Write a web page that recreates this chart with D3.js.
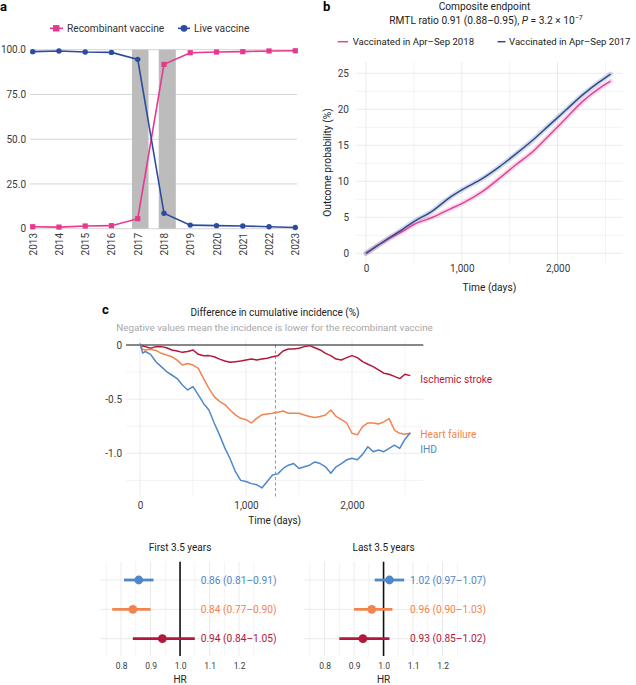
<!DOCTYPE html>
<html><head><meta charset="utf-8">
<script src="https://cdn.jsdelivr.net/npm/d3@7"></script>
<style>
body{margin:0;background:#fff}
svg{display:block}
text{font-family:Roboto,"Open Sans",sans-serif}
</style>
</head><body>
<svg id="chart" width="636" height="685"></svg>
<script>
// ---------- Panel a data ----------
const years = [2013,2014,2015,2016,2017,2018,2019,2020,2021,2022,2023];
const recombinant = [1.1,0.9,1.5,1.7,5.6,91.8,98.3,98.7,98.9,99.3,99.4];
const live = [98.9,99.3,98.7,98.5,94.6,8.6,2.0,1.7,1.5,1.1,0.7];
const seasonBars = [[2016.78,2017.41],[2017.8,2018.45]];
const yTicksA = [0,25,50,75,100];
const yTickLabelsA = ["0","25.0","50.0","75.0","100.0"];
const legendA = ["Recombinant vaccine","Live vaccine"];

// ---------- Panel b data ----------
const daysB = [0,100,250,400,500,696,870,1000,1217,1391,1565,1739,1913,2087,2261,2435,2553];
const vacc2017 = [0,0.9,2.2,3.5,4.4,5.9,7.7,8.8,10.4,12.0,13.8,15.7,17.8,19.9,22.0,23.8,24.9];
const vacc2018 = [0,0.9,2.1,3.2,4.0,5.0,6.1,6.9,8.6,10.4,12.3,14.1,16.4,18.75,21.1,22.9,23.9];
const legendB = ["Vaccinated in Apr\u2013Sep 2018","Vaccinated in Apr\u2013Sep 2017"];
const yTicksB = [0,5,10,15,20,25];
const xTicksB = [0,1000,2000];

// ---------- Panel c data ----------
const daysC = [0,25,50,100,150,200,250,300,350,400,450,500,550,600,650,700,750,800,850,900,950,1000,1050,1100,1150,1200,1250,1300,1350,1400,1450,1500,1550,1600,1650,1700,1750,1800,1850,1900,1950,2000,2050,2100,2150,2200,2250,2300,2350,2400,2450,2500,2550];
const ihd = [0.015,-0.075,-0.06,-0.086,-0.155,-0.20,-0.245,-0.277,-0.31,-0.37,-0.415,-0.385,-0.46,-0.54,-0.60,-0.72,-0.83,-0.95,-1.05,-1.17,-1.25,-1.26,-1.28,-1.29,-1.32,-1.26,-1.20,-1.19,-1.14,-1.11,-1.095,-1.14,-1.125,-1.11,-1.08,-1.095,-1.125,-1.185,-1.125,-1.095,-1.06,-1.045,-1.06,-1.01,-0.94,-0.985,-0.97,-0.985,-0.955,-0.925,-0.955,-0.87,-0.81];
const heartFailure = [0,-0.04,-0.046,-0.04,-0.05,-0.077,-0.092,-0.108,-0.14,-0.185,-0.17,-0.185,-0.215,-0.31,-0.40,-0.477,-0.52,-0.55,-0.60,-0.645,-0.677,-0.69,-0.72,-0.677,-0.645,-0.637,-0.63,-0.62,-0.61,-0.63,-0.63,-0.63,-0.646,-0.66,-0.67,-0.66,-0.646,-0.60,-0.66,-0.69,-0.72,-0.815,-0.83,-0.754,-0.72,-0.72,-0.73,-0.71,-0.68,-0.785,-0.815,-0.825,-0.815];
const stroke = [0,-0.01,-0.015,-0.03,-0.015,-0.015,-0.025,-0.046,-0.055,-0.068,-0.06,-0.046,-0.086,-0.10,-0.098,-0.108,-0.13,-0.148,-0.16,-0.154,-0.148,-0.138,-0.13,-0.138,-0.13,-0.123,-0.108,-0.10,-0.055,-0.037,-0.037,-0.03,-0.015,-0.006,-0.025,-0.046,-0.077,-0.098,-0.13,-0.138,-0.117,-0.098,-0.117,-0.154,-0.178,-0.20,-0.23,-0.26,-0.27,-0.29,-0.31,-0.27,-0.283];
const splitDay = 1278;
const yTicksC = [0,-0.5,-1.0];
const yTickLabelsC = ["0","-0.5","-1.0"];

// ---------- Forest data ----------
const outcomes = ["IHD","Heart failure","Ischemic stroke"];
const firstHR = [0.86,0.84,0.94], firstLo = [0.81,0.77,0.84], firstHi = [0.91,0.90,1.05];
const lastHR = [1.02,0.96,0.93], lastLo = [0.97,0.90,0.85], lastHi = [1.07,1.03,1.02];
const hrTicks = [0.8,0.9,1.0,1.1,1.2];

// ---------- styles ----------
const pinkA = "#e8388d", blueA = "#2b4c9f";
const pinkB = "#e0459a", blueB = "#2f4b8f";
const outColor = {"IHD":"#4f88c6","Heart failure":"#f1844f","Ischemic stroke":"#b3183c"};
const txt = "#333", grid = "#ebebeb", gridMinor = "#f3f3f3";

const svg = d3.select("#chart");

function panelLabel(t,x,y){
  svg.append("text").attr("x",x).attr("y",y).text(t)
    .attr("font-weight","bold").attr("font-size",13).attr("fill","#000");
}
function styleAxis(g,size,color){
  g.select(".domain").remove();
  g.selectAll(".tick line").remove();
  g.selectAll("text").attr("font-size",size).attr("fill",color||txt)
    .attr("font-family",'Roboto,"Open Sans",sans-serif');
}

// ================= Panel a =================
panelLabel("a",0,11);
const xA = d3.scaleLinear().domain([2013,2023]).range([32.7,295.3]);
const yA = d3.scaleLinear().domain([0,100]).range([228.7,49.7]);
const gA = svg.append("g");
gA.selectAll("line.g").data(yTicksA).join("line")
  .attr("x1",30).attr("x2",297).attr("y1",d=>yA(d)).attr("y2",d=>yA(d))
  .attr("stroke","#d4d4d4").attr("stroke-width",1);
gA.selectAll("rect").data(seasonBars).join("rect")
  .attr("x",d=>xA(d[0])).attr("width",d=>xA(d[1])-xA(d[0]))
  .attr("y",yA(100)).attr("height",yA(0)-yA(100)).attr("fill","#bcbcbc");
const axA = gA.append("g").attr("transform","translate(29,0)")
  .call(d3.axisLeft(yA).tickValues(yTicksA).tickFormat((d,i)=>yTickLabelsA[i]).tickSize(0).tickPadding(3));
styleAxis(axA,10,"#3a3a3a");
const axAx = gA.append("g").attr("transform","translate(0,231)")
  .call(d3.axisBottom(xA).tickValues(years).tickFormat(d3.format("d")).tickSize(0));
styleAxis(axAx,10,"#3a3a3a");
axAx.selectAll("text").attr("transform","rotate(-90)").attr("x",-2).attr("y",0)
  .attr("dy","0.35em").attr("text-anchor","end");
const lineA = d3.line().x(d=>xA(d[0])).y(d=>yA(d[1]));
const recPts = years.map((y,i)=>[y,recombinant[i]]);
const livePts = years.map((y,i)=>[y,live[i]]);
gA.append("path").datum(recPts).attr("d",lineA).attr("fill","none").attr("stroke",pinkA).attr("stroke-width",1.6);
gA.append("path").datum(livePts).attr("d",lineA).attr("fill","none").attr("stroke",blueA).attr("stroke-width",1.6);
gA.selectAll("rect.m").data(recPts).join("rect").attr("class","m")
  .attr("x",d=>xA(d[0])-2.6).attr("y",d=>yA(d[1])-2.6).attr("width",5.2).attr("height",5.2).attr("fill",pinkA);
gA.selectAll("circle.m").data(livePts).join("circle").attr("class","m")
  .attr("cx",d=>xA(d[0])).attr("cy",d=>yA(d[1])).attr("r",2.7).attr("fill",blueA);
// legend a
const legAy = 28.3;
gA.append("line").attr("x1",50).attr("x2",63).attr("y1",legAy).attr("y2",legAy).attr("stroke",pinkA).attr("stroke-width",1.6);
gA.append("rect").attr("x",53).attr("y",legAy-3.2).attr("width",6.4).attr("height",6.4).attr("fill",pinkA);
gA.append("text").attr("x",67).attr("y",legAy).attr("dy","0.35em").attr("font-size",10.2).attr("fill",txt).text(legendA[0]);
gA.append("line").attr("x1",178).attr("x2",190).attr("y1",legAy).attr("y2",legAy).attr("stroke",blueA).attr("stroke-width",1.6);
gA.append("circle").attr("cx",184).attr("cy",legAy).attr("r",3.4).attr("fill",blueA);
gA.append("text").attr("x",194).attr("y",legAy).attr("dy","0.35em").attr("font-size",10.2).attr("fill",txt).text(legendA[1]);

// ================= Panel b =================
panelLabel("b",323,11);
const xB = d3.scaleLinear().domain([0,2000]).range([366,557.6]);
const yB = d3.scaleLinear().domain([0,25]).range([253.3,73.3]);
const bL = 356, bR = 622.7, bT = 61.7, bBt = 263.3;
const gB = svg.append("g");
const minorB = d3.range(2.5,26,5);
gB.selectAll("line.hm").data(minorB).join("line").attr("x1",bL).attr("x2",bR)
  .attr("y1",d=>yB(d)).attr("y2",d=>yB(d)).attr("stroke",gridMinor);
gB.selectAll("line.vm").data([500,1500,2500]).join("line").attr("y1",bT).attr("y2",bBt)
  .attr("x1",d=>xB(d)).attr("x2",d=>xB(d)).attr("stroke",gridMinor);
gB.selectAll("line.h").data(yTicksB).join("line").attr("x1",bL).attr("x2",bR)
  .attr("y1",d=>yB(d)).attr("y2",d=>yB(d)).attr("stroke",grid);
gB.selectAll("line.v").data(xTicksB).join("line").attr("y1",bT).attr("y2",bBt)
  .attr("x1",d=>xB(d)).attr("x2",d=>xB(d)).attr("stroke",grid);
const axB = gB.append("g").attr("transform",`translate(${bL-3},0)`)
  .call(d3.axisLeft(yB).tickValues(yTicksB).tickSize(0).tickPadding(4));
styleAxis(axB,10,"#3a3a3a");
const axBx = gB.append("g").attr("transform",`translate(0,${bBt})`)
  .call(d3.axisBottom(xB).tickValues(xTicksB).tickFormat(d3.format(",")).tickSize(0).tickPadding(2));
styleAxis(axBx,10,"#3a3a3a");
const lineB = d3.line().x(d=>xB(d[0])).y(d=>yB(d[1])).curve(d3.curveMonotoneX);
const p17 = daysB.map((d,i)=>[d,vacc2017[i]]);
const p18 = daysB.map((d,i)=>[d,vacc2018[i]]);
[[p18,pinkB],[p17,blueB]].forEach(([pts,c])=>{
  gB.append("path").datum(pts).attr("d",lineB).attr("fill","none").attr("stroke",c)
    .attr("stroke-opacity",0.2).attr("stroke-width",5).attr("stroke-linecap","round");
});
[[p18,pinkB],[p17,blueB]].forEach(([pts,c])=>{
  gB.append("path").datum(pts).attr("d",lineB).attr("fill","none").attr("stroke",c).attr("stroke-width",1.5);
});
gB.append("text").attr("x",484.5).attr("y",9.5).attr("text-anchor","middle").attr("font-size",10.2).attr("fill","#222").text("Composite endpoint");
const sub = gB.append("text").attr("x",486).attr("y",24).attr("text-anchor","middle").attr("font-size",10.2).attr("fill","#222");
sub.append("tspan").text("RMTL ratio 0.91 (0.88\u20130.95), ");
sub.append("tspan").attr("font-style","italic").text("P");
sub.append("tspan").text(" = 3.2 \u00d7 10");
sub.append("tspan").attr("font-size",7).attr("dy",-4).text("\u22127");
const legBy = 41.7;
gB.append("line").attr("x1",337.7).attr("x2",348).attr("y1",legBy).attr("y2",legBy).attr("stroke",pinkB).attr("stroke-width",1.5);
gB.append("text").attr("x",352.7).attr("y",legBy).attr("dy","0.35em").attr("font-size",9.6).attr("fill","#222").text(legendB[0]);
gB.append("line").attr("x1",497.5).attr("x2",505.5).attr("y1",legBy).attr("y2",legBy).attr("stroke",blueB).attr("stroke-width",1.5);
gB.append("text").attr("x",509).attr("y",legBy).attr("dy","0.35em").attr("font-size",9.6).attr("fill","#222").text(legendB[1]);
gB.append("text").attr("transform",`translate(327.7,${(bT+bBt)/2}) rotate(-90)`).attr("text-anchor","middle")
  .attr("dy","0.35em").attr("font-size",10.2).attr("fill","#222").text("Outcome probability (%)");
gB.append("text").attr("x",(bL+bR)/2).attr("y",290.5).attr("text-anchor","middle").attr("font-size",10.2).attr("fill","#222").text("Time (days)");

// ================= Panel c =================
panelLabel("c",102,314);
const xC = d3.scaleLinear().domain([0,2000]).range([140,352]);
const yC = d3.scaleLinear().domain([0,-1]).range([345,453.3]);
const cL = 126, cR = 423.3, cT = 339, cB = 496.7;
const gC = svg.append("g");
gC.selectAll("line.hm").data([-0.25,-0.75,-1.25]).join("line").attr("x1",cL).attr("x2",cR)
  .attr("y1",d=>yC(d)).attr("y2",d=>yC(d)).attr("stroke",gridMinor);
gC.selectAll("line.vm").data([500,1500,2500]).join("line").attr("y1",cT).attr("y2",cB)
  .attr("x1",d=>xC(d)).attr("x2",d=>xC(d)).attr("stroke",gridMinor);
gC.selectAll("line.h").data([-0.5,-1.0]).join("line").attr("x1",cL).attr("x2",cR)
  .attr("y1",d=>yC(d)).attr("y2",d=>yC(d)).attr("stroke",grid);
gC.selectAll("line.v").data(xTicksB).join("line").attr("y1",cT).attr("y2",cB)
  .attr("x1",d=>xC(d)).attr("x2",d=>xC(d)).attr("stroke",grid);
gC.append("line").attr("x1",xC(splitDay)).attr("x2",xC(splitDay)).attr("y1",yC(0)).attr("y2",cB)
  .attr("stroke","#8a8a8a").attr("stroke-width",0.9).attr("stroke-dasharray","3,2.5");
gC.append("line").attr("x1",cL).attr("x2",cR).attr("y1",yC(0)).attr("y2",yC(0)).attr("stroke","#111").attr("stroke-width",1.2);
const axC = gC.append("g").attr("transform",`translate(${cL},0)`)
  .call(d3.axisLeft(yC).tickValues(yTicksC).tickFormat((d,i)=>yTickLabelsC[i]).tickSize(0).tickPadding(4));
styleAxis(axC,10,"#3a3a3a");
const axCx = gC.append("g").attr("transform",`translate(0,${cB})`)
  .call(d3.axisBottom(xC).tickValues(xTicksB).tickFormat(d3.format(",")).tickSize(0).tickPadding(5));
styleAxis(axCx,10,"#3a3a3a");
const lineC = d3.line().x(d=>xC(d[0])).y(d=>yC(d[1]));
const seriesC = [["Ischemic stroke",stroke,4],["Heart failure",heartFailure,1.5],["IHD",ihd,16.5]];
seriesC.forEach(([name,vals,off])=>{
  const pts = daysC.map((d,i)=>[d,vals[i]]);
  gC.append("path").datum(pts).attr("d",lineC).attr("fill","none").attr("stroke",outColor[name]).attr("stroke-width",1.5).attr("stroke-linejoin","round");
  const last = pts[pts.length-1];
  gC.append("text").attr("x",xC(last[0])+10).attr("y",yC(last[1])+off).attr("dy","0.35em")
    .attr("font-size",10.2).attr("fill",outColor[name]).text(name);
});
gC.append("text").attr("x",275).attr("y",316).attr("text-anchor","middle").attr("font-size",10).attr("fill","#222").text("Difference in cumulative incidence (%)");
gC.append("text").attr("x",274.5).attr("y",330.5).attr("text-anchor","middle").attr("font-size",9.8).attr("fill","#a8a8a8").text("Negative values mean the incidence is lower for the recombinant vaccine");
gC.append("text").attr("x",(cL+cR)/2).attr("y",523.5).attr("text-anchor","middle").attr("font-size",10).attr("fill","#222").text("Time (days)");

// ================= Forest plots =================
const yF = d3.scalePoint().domain(outcomes).range([580,638.7]);
const fT = 561.7, fB = 656;
function forest(x0,x1,title,hr,lo,hi){
  const xF = d3.scaleLinear().domain([0.73,1.27]).range([x0,x1]);
  const g = svg.append("g");
  const minor = d3.range(0.75,1.26,0.1).map(v=>+v.toFixed(2));
  g.selectAll("line.vm").data(minor).join("line").attr("x1",d=>xF(d)).attr("x2",d=>xF(d))
    .attr("y1",fT).attr("y2",fB).attr("stroke",gridMinor);
  g.selectAll("line.v").data(hrTicks).join("line").attr("x1",d=>xF(d)).attr("x2",d=>xF(d))
    .attr("y1",fT).attr("y2",fB).attr("stroke",grid);
  g.selectAll("line.h").data(outcomes).join("line").attr("x1",x0).attr("x2",x1)
    .attr("y1",d=>yF(d)).attr("y2",d=>yF(d)).attr("stroke",grid);
  g.append("line").attr("x1",xF(1)).attr("x2",xF(1)).attr("y1",fT).attr("y2",fB).attr("stroke","#111").attr("stroke-width",1.6);
  outcomes.forEach((o,i)=>{
    g.append("line").attr("x1",xF(lo[i])).attr("x2",xF(hi[i])).attr("y1",yF(o)).attr("y2",yF(o))
      .attr("stroke",outColor[o]).attr("stroke-width",2.8);
    g.append("circle").attr("cx",xF(hr[i])).attr("cy",yF(o)).attr("r",4.4).attr("fill",outColor[o]);
    g.append("text").attr("x",xF(d3.max(hi)+0.02)).attr("y",yF(o)).attr("dy","0.35em")
      .attr("font-size",10.2).attr("fill",outColor[o])
      .text(`${hr[i].toFixed(2)} (${lo[i].toFixed(2)}\u2013${hi[i].toFixed(2)})`);
  });
  const ax = g.append("g").attr("transform",`translate(0,${fB+3})`)
    .call(d3.axisBottom(xF).tickValues(hrTicks).tickFormat(d3.format(".1f")).tickSize(0).tickPadding(4));
  styleAxis(ax,8.5,"#3a3a3a");
  g.append("text").attr("x",(x0+x1)/2).attr("y",550.5).attr("text-anchor","middle").attr("font-size",10).attr("fill","#222").text(title);
  g.append("text").attr("x",xF(1)).attr("y",682.5).attr("text-anchor","middle").attr("font-size",10).attr("fill","#222").text("HR");
}
forest(100.4,259.7,"First 3.5 years",firstHR,firstLo,firstHi);
forest(303.9,463.2,"Last 3.5 years",lastHR,lastLo,lastHi);
</script>
</body></html>
